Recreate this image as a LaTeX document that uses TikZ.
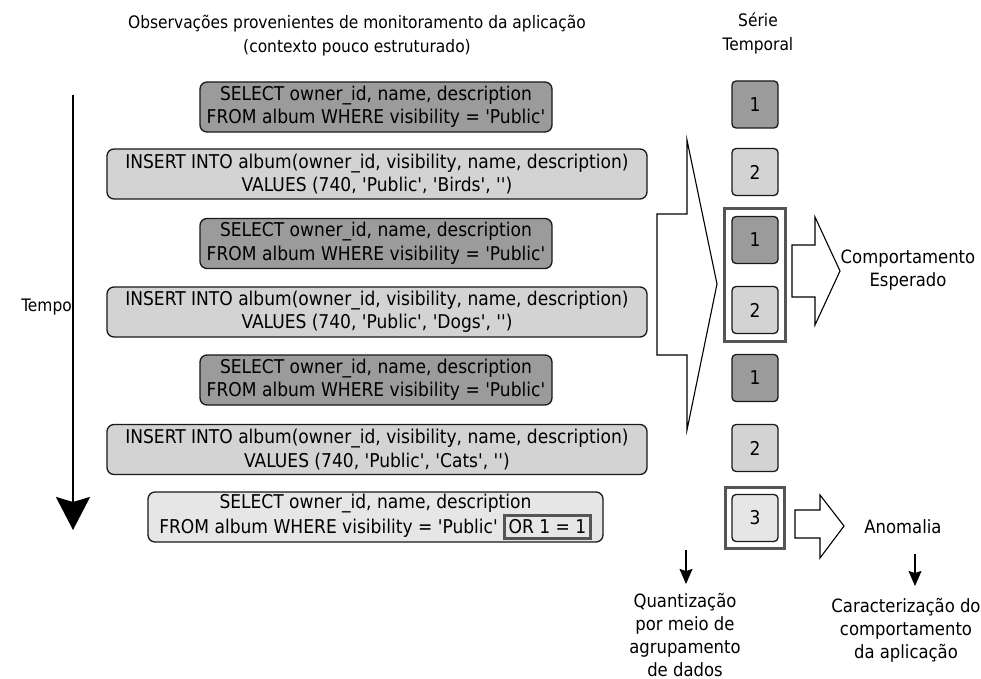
\documentclass[tikz,border=0pt]{standalone}
\usepackage{fontspec}
\setmainfont{DejaVu Sans Condensed}[Ligatures=TeXOff]
\usetikzlibrary{arrows.meta,fit}
\definecolor{selfill}{RGB}{155,155,155}
\definecolor{insfill}{RGB}{211,211,211}
\definecolor{atkfill}{RGB}{230,230,230}
\definecolor{grpline}{RGB}{85,85,85}
\definecolor{edgeline}{RGB}{25,25,25}
\begin{document}
\begin{tikzpicture}[x=1bp,y=-1bp,
  txt/.style={font=\fontsize{17.2bp}{24bp}\selectfont, align=center, inner sep=0pt},
  captxt/.style={txt, font=\fontsize{18.3bp}{23bp}\selectfont},
  sqltxt/.style={txt, font=\fontsize{19bp}{23.5bp}\selectfont},
  query/.style={sqltxt, draw=edgeline, line width=1.3bp, rounded corners=7bp, minimum height=50bp},
  selq/.style={query, fill=selfill, minimum width=352bp},
  insq/.style={query, fill=insfill, minimum width=540bp},
  atkq/.style={query, fill=atkfill, minimum width=455bp},
  sample/.style={sqltxt, draw=edgeline, line width=1.3bp, rounded corners=4bp, minimum width=46bp, minimum height=47bp},
  group/.style={draw=grpline, line width=3bp, inner sep=7bp},
  blockarrow/.style={draw=black, line width=1.1bp, fill=white, line join=miter},
  smallarrow/.style={draw=black, line width=1.3bp, -{Stealth[length=15bp,width=13bp,inset=2bp]}},
  timearrow/.style={draw=black, line width=2.6bp, -{Stealth[length=33bp,width=34bp,inset=5bp]}}
]
\useasboundingbox (0,0) rectangle (981,679);

% headings
\node[txt] (title) at (357,36) {Observações provenientes de monitoramento da aplicação\\(contexto pouco estruturado)};
\node[txt] (serie) at (758,33) {Série\\Temporal};

% monitored queries, oldest on top
\node[selq] (q1) at (376,107) {SELECT owner\_id, name, description\\FROM album WHERE visibility = 'Public'};
\node[insq] (q2) at (377,174) {INSERT INTO album(owner\_id, visibility, name, description)\\VALUES (740, 'Public', 'Birds', '')};
\node[selq] (q3) at (376,243.5) {SELECT owner\_id, name, description\\FROM album WHERE visibility = 'Public'};
\node[insq] (q4) at (377,312) {INSERT INTO album(owner\_id, visibility, name, description)\\VALUES (740, 'Public', 'Dogs', '')};
\node[selq] (q5) at (376,380) {SELECT owner\_id, name, description\\FROM album WHERE visibility = 'Public'};
\node[insq] (q6) at (377,449.5) {INSERT INTO album(owner\_id, visibility, name, description)\\VALUES (740, 'Public', 'Cats', '')};
\node[atkq] (q7) at (375.5,517) {SELECT owner\_id, name, description\\FROM album WHERE visibility = 'Public' {\setlength{\fboxsep}{3bp}\setlength{\fboxrule}{2.4bp}\fcolorbox{grpline}{atkfill}{OR 1 = 1}}};

% time axis
\coordinate (t0) at (73,95);
\coordinate (t1) at (73,530);
\draw[timearrow] (t0) -- (t1);
\node[txt, anchor=east] (tempo) at (72,307) {Tempo};

% quantisation chevron
\draw[blockarrow] (657,214) -- (687,214) -- (687,140) -- (717,284) -- (687,430) -- (687,355) -- (657,355) -- cycle;

% time series symbols
\node[sample, fill=selfill] (s1) at (755,104.5) {1};
\node[sample, fill=insfill] (s2) at (755,172) {2};
\node[sample, fill=selfill] (s3) at (755,240) {1};
\node[sample, fill=insfill] (s4) at (755,310) {2};
\node[sample, fill=selfill] (s5) at (755,378) {1};
\node[sample, fill=insfill] (s6) at (755,448) {2};
\node[sample, fill=atkfill] (s7) at (755,518) {3};
\node[group, fit=(s3)(s4)] (gexp) {};
\node[group, inner sep=6bp, fit=(s7)] (ganom) {};

% outcomes
\draw[blockarrow] (792,245) -- (815,245) -- (815,217) -- (840,271) -- (815,325) -- (815,297) -- (792,297) -- cycle;
\node[captxt] (expected) at (908,270) {Comportamento\\Esperado};
\draw[blockarrow] (795,510) -- (820,510) -- (820,495) -- (844,526) -- (820,558) -- (820,538) -- (795,538) -- cycle;
\node[captxt] (anomaly) at (903,527) {Anomalia};

% captions
\coordinate (qa) at (686,550);
\coordinate (qb) at (686,584);
\draw[smallarrow] (qa) -- (qb);
\node[captxt] (quant) at (685,635) {Quantização\\por meio de\\agrupamento\\de dados};
\coordinate (ca) at (915,554);
\coordinate (cb) at (915,586);
\draw[smallarrow] (ca) -- (cb);
\node[captxt] (charact) at (906,630) {Caracterização do\\comportamento\\da aplicação};
\end{tikzpicture}
\end{document}
